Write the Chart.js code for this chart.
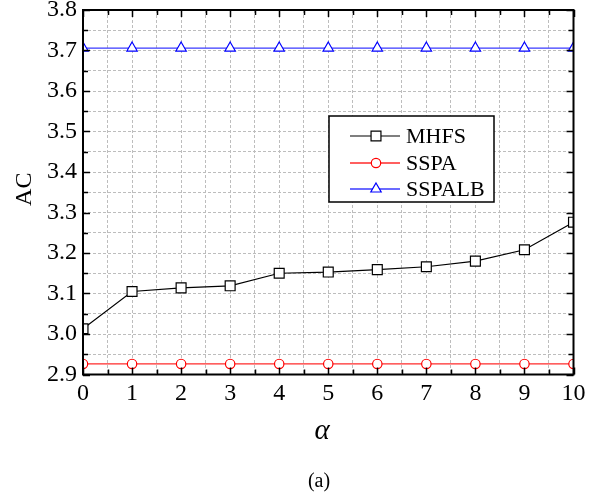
<!DOCTYPE html>
<html>
<head>
<meta charset="utf-8">
<script src="https://cdn.jsdelivr.net/npm/chart.js@4/dist/chart.umd.min.js"></script>
<style>
html,body{margin:0;padding:0;background:#fff;}
#wrap{width:603px;height:495px;position:relative;}
</style>
</head>
<body>
<div id="wrap"><canvas id="c" width="603" height="495"></canvas></div>
<script>
const alphaValues = [0, 1, 2, 3, 4, 5, 6, 7, 8, 9, 10];
const mhfs   = [3.013, 3.105, 3.114, 3.119, 3.150, 3.153, 3.159, 3.166, 3.180, 3.208, 3.276];
const sspa   = [2.926, 2.926, 2.926, 2.926, 2.926, 2.926, 2.926, 2.926, 2.926, 2.926, 2.926];
const sspalb = [3.706, 3.706, 3.706, 3.706, 3.706, 3.706, 3.706, 3.706, 3.706, 3.706, 3.706];
const seriesNames = ['MHFS', 'SSPA', 'SSPALB'];
const yTitle = 'AC';
const xTitle = 'α';
const caption = '(a)';

const FONT = '"Liberation Serif", "Times New Roman", serif';

function pts(vals){ return alphaValues.map((x,i)=>({x:x, y:vals[i]})); }

const isMult = (v, step) => Math.abs(v/step - Math.round(v/step)) < 1e-6;

const decorPlugin = {
  id: 'decor',
  afterDatasetsDraw(chart){
    const {ctx, chartArea:a, scales:{x, y}} = chart;
    ctx.save();
    ctx.strokeStyle = '#000';
    ctx.lineWidth = 1.5;
    ctx.beginPath();
    x.ticks.forEach(t=>{
      const px = Math.round(x.getPixelForValue(t.value))+0.5;
      const len = isMult(t.value,1) ? 7 : 5;
      ctx.moveTo(px, a.bottom); ctx.lineTo(px, a.bottom-len);
      ctx.moveTo(px, a.top); ctx.lineTo(px, a.top+len);
    });
    y.ticks.forEach(t=>{
      const py = Math.round(y.getPixelForValue(t.value))+0.5;
      const len = isMult(t.value,0.1) ? 7 : 5;
      ctx.moveTo(a.left, py); ctx.lineTo(a.left+len, py);
      ctx.moveTo(a.right, py); ctx.lineTo(a.right-len, py);
    });
    ctx.stroke();
    ctx.lineWidth = 2;
    ctx.strokeRect(a.left, a.top, a.right-a.left, a.bottom-a.top);
    ctx.restore();
  },
  afterDraw(chart){
    const {ctx, chartArea:a} = chart;
    ctx.save();
    ctx.fillStyle = '#000';
    ctx.save();
    ctx.translate(25, (a.top+a.bottom)/2 - 3);
    ctx.rotate(-Math.PI/2);
    ctx.font = '24px ' + FONT;
    ctx.textAlign = 'center';
    ctx.textBaseline = 'middle';
    ctx.fillText(yTitle, 0, 0);
    ctx.restore();
    ctx.font = 'italic 29px ' + FONT;
    ctx.textAlign = 'center';
    ctx.textBaseline = 'middle';
    ctx.fillText(xTitle, 322, 431);
    ctx.font = '20px ' + FONT;
    ctx.fillText(caption, 319, 482);
    const bx = 329, by = 116, bw = 165, bh = 86;
    ctx.fillStyle = '#fff';
    ctx.fillRect(bx, by, bw, bh);
    ctx.strokeStyle = '#000';
    ctx.lineWidth = 1.5;
    ctx.strokeRect(bx, by, bw, bh);
    const rows = [136, 163, 189];
    chart.data.datasets.forEach((ds, i)=>{
      const yy = rows[i];
      ctx.strokeStyle = ds.borderColor;
      ctx.lineWidth = ds.borderWidth;
      ctx.beginPath(); ctx.moveTo(350, yy); ctx.lineTo(400, yy); ctx.stroke();
      ctx.fillStyle = ds.pointBackgroundColor;
      ctx.strokeStyle = ds.pointBorderColor;
      ctx.lineWidth = ds.pointBorderWidth;
      ctx.beginPath();
      if (ds.pointStyle === 'rect') {
        const s = ds.pointRadius*Math.SQRT1_2;
        ctx.rect(376-s, yy-s, 2*s, 2*s);
      } else if (ds.pointStyle === 'circle') {
        ctx.arc(376, yy, ds.pointRadius, 0, Math.PI*2);
      } else {
        const r = ds.pointRadius;
        for (let k=0;k<3;k++){
          const ang = k*2*Math.PI/3;
          const px = 376 + Math.sin(ang)*r, py = yy - Math.cos(ang)*r;
          if (k===0) ctx.moveTo(px,py); else ctx.lineTo(px,py);
        }
        ctx.closePath();
      }
      ctx.fill(); ctx.stroke();
      ctx.fillStyle = '#000';
      ctx.font = '22px ' + FONT;
      ctx.textAlign = 'left';
      ctx.textBaseline = 'middle';
      ctx.fillText(ds.label, 406, yy+1);
    });
    ctx.restore();
  }
};

const gridOpts = { color: '#bdbdbd', lineWidth: 1, drawTicks: false };

new Chart(document.getElementById('c'), {
  type: 'line',
  data: {
    datasets: [
      { label: seriesNames[0], data: pts(mhfs), borderColor: '#000', borderWidth: 1.2,
        pointStyle: 'rect', pointRadius: 7, pointBackgroundColor: '#fff',
        pointBorderColor: '#000', pointBorderWidth: 1.2, tension: 0 },
      { label: seriesNames[1], data: pts(sspa), borderColor: '#ff2a2a', borderWidth: 1.3,
        pointStyle: 'circle', pointRadius: 4.7, pointBackgroundColor: '#fff',
        pointBorderColor: '#ff0000', pointBorderWidth: 1.2, tension: 0 },
      { label: seriesNames[2], data: pts(sspalb), borderColor: '#3a3aff', borderWidth: 1.3,
        pointStyle: 'triangle', pointRadius: 6, pointBackgroundColor: '#fff',
        pointBorderColor: '#0000ff', pointBorderWidth: 1.2, tension: 0 }
    ]
  },
  options: {
    responsive: false,
    animation: false,
    devicePixelRatio: 1,
    layout: { padding: { top: 10, right: 29.5, left: 0, bottom: 0 } },
    plugins: { legend: { display: false }, tooltip: { enabled: false } },
    elements: { point: { hoverRadius: 0 } },
    scales: {
      x: {
        type: 'linear', position: 'bottom', min: 0, max: 10,
        grid: gridOpts,
        border: { display: false, dash: [3, 2] },
        ticks: {
          stepSize: 0.5, autoSkip: false, maxRotation: 0, padding: 5,
          color: '#000', font: { family: FONT, size: 24 },
          callback: v => isMult(v, 1) ? String(Math.round(v)) : ''
        },
        afterFit: s => { s.height = 120.5; s.paddingLeft = 0; s.paddingRight = 0; }
      },
      y: {
        type: 'linear', min: 2.9, max: 3.8,
        grid: gridOpts,
        border: { display: false, dash: [3, 2] },
        ticks: {
          stepSize: 0.05, autoSkip: false, padding: 6,
          color: '#000', font: { family: FONT, size: 24 },
          callback: v => isMult(v, 0.1) ? v.toFixed(1) : ''
        },
        afterFit: s => { s.width = 83; s.paddingTop = 0; s.paddingBottom = 0; }
      }
    }
  },
  plugins: [decorPlugin]
});
</script>
</body>
</html>
